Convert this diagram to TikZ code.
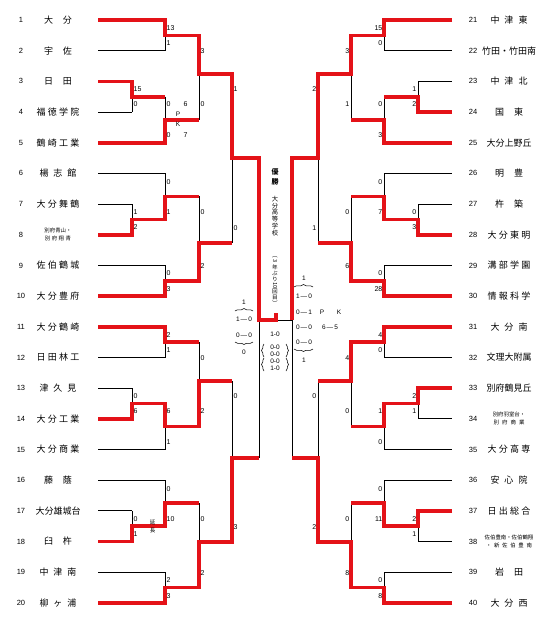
\documentclass[tikz,border=0pt]{standalone}
\usepackage{graphicx}
\usepackage{fontspec}
\setmainfont{Liberation Sans}
\newfontfamily\jpfont{Noto Sans CJK JP}
\usetikzlibrary{decorations.pathreplacing}
\definecolor{winred}{RGB}{228,18,24}
\newcommand\twoch[1]{\makebox[28pt][s]{#1}}
\newcommand\threech[1]{\makebox[37pt][s]{#1}}
\newcommand\fourch[1]{\makebox[43pt][s]{#1}}
\newcommand\smallpair[2]{\vbox{\fontsize{5.4}{8}\selectfont
  \hbox to 52pt{\hss#1\hss}\hbox to 52pt{\hss#2\hss}}}

\begin{document}
\begin{tikzpicture}[
			x=1pt, y=-1pt,
			bline/.style={draw=black, line width=0.8pt},
			rline/.style={draw=winred, line width=3.6pt, line join=miter},
			seed/.style={font=\fontsize{7.5}{9}\selectfont, inner sep=0pt},
			team/.style={font=\jpfont\fontsize{9}{10}\selectfont, inner sep=0pt},
			scL/.style={font=\fontsize{7}{8}\selectfont, inner sep=0pt, anchor=west},
			scR/.style={font=\fontsize{7}{8}\selectfont, inner sep=0pt, anchor=east},
			half/.style={font=\fontsize{6.5}{7}\selectfont, inner sep=0pt, align=center},
			brc/.style={decorate, decoration={brace, amplitude=2.5pt}, line width=0.5pt}
			]
			\fill[white] (0,0) rectangle (553,630);
			\useasboundingbox (0,0) rectangle (553,630);
			
			% left teams
			\foreach \i/\xe/\nm in {1/165/\twoch{大 分}, 2/165/\twoch{宇 佐}, 3/132/\twoch{日 田},
				4/132/\fourch{福 徳 学 院}, 5/165/\fourch{鶴 崎 工 業}, 6/165/\threech{楊 志 館},
				7/132/\fourch{大 分 舞 鶴}, 8/132/\smallpair{別府青山・}{\makebox[26pt][s]{別 府 翔 青}},
				9/165/\fourch{佐 伯 鶴 城}, 10/165/\fourch{大 分 豊 府}, 11/165/\fourch{大 分 鶴 崎},
				12/165/\fourch{日 田 林 工}, 13/132/\threech{津 久 見}, 14/132/\fourch{大 分 工 業},
				15/165/\fourch{大 分 商 業}, 16/165/\twoch{藤 蔭}, 17/132/大分雄城台,
				18/132/\twoch{臼 杵}, 19/165/\threech{中 津 南}, 20/165/\threech{柳 ヶ 浦}}
			{
				\pgfmathsetmacro\ty{20+(\i-1)*30.68}
				\draw[bline] (98,\ty) -- (\xe,\ty);
				\node[seed] (n\i) at (21,\ty) {\i};
				\node[team] (t\i) at (58,\ty) {\nm};
			}
			
			% right teams
			\foreach \i/\xe/\nm in {21/384/\threech{中 津 東}, 22/384/竹田・竹田南, 23/418/\threech{中 津 北},
				24/418/\twoch{国 東}, 25/384/大分上野丘, 26/384/\twoch{明 豊}, 27/418/\twoch{杵 築},
				28/418/\fourch{大 分 東 明}, 29/384/\fourch{溝 部 学 園}, 30/384/\fourch{情 報 科 学},
				31/384/\threech{大 分 南}, 32/384/文理大附属, 33/418/別府鶴見丘,
				34/418/\smallpair{別府羽室台・}{\makebox[31pt][s]{別 府 商 業}},
				35/384/\fourch{大 分 高 専}, 36/384/\threech{安 心 院}, 37/418/\fourch{日 出 総 合},
				38/418/\smallpair{佐伯豊南・佐伯鶴翔}{\makebox[46pt][s]{・ 新 佐 伯 豊 南}},
				39/384/\twoch{岩 田}, 40/384/\threech{大 分 西}}
			{
				\pgfmathsetmacro\ty{20+(\i-21)*30.68}
				\draw[bline] (\xe,\ty) -- (452,\ty);
				\node[seed] (n\i) at (473,\ty) {\i};
				\node[team] (t\i) at (509,\ty) {\nm};
			}
			
			% bracket verticals
			\foreach \x/\ya/\yb in {165/20/50.7, 165/96.7/142.7, 165/173.4/219.4, 165/265.4/296.1,
				165/326.8/357.5, 165/403.5/449.5, 165/480.2/526.2, 165/572.2/602.9,
				132/81.4/112, 132/204.1/234.8, 132/388.2/418.8, 132/510.9/541.6,
				199/35.4/119.7, 199/196.4/280.8, 199/342.1/426.5, 199/503.2/587.6,
				232/74/243, 232/381/542, 259/158/458,
				384/20/50.7, 384/96.7/142.7, 384/173.4/219.4, 384/265.4/296.1,
				384/326.8/357.5, 384/403.5/449.5, 384/480.2/526.2, 384/572.2/602.9,
				418/81.4/112, 418/204.1/234.8, 418/388.2/418.8, 418/510.9/541.6,
				351/35.4/119.7, 351/196.4/280.8, 351/342.1/426.5, 351/503.2/587.6,
				318/74/243, 318/381/542, 292/158/458}
			\draw[bline] (\x,\ya) -- (\x,\yb);
			\draw[bline] (259,320) -- (292,320);
			
			% winners, left
			\draw[rline] (98,20) -- (165,20) -- (165,35.4) -- (199,35.4) -- (199,74) -- (232,74)
				-- (232,158) -- (259,158) -- (259,320) -- (276,320) -- (276,313);
			\draw[rline] (98,81.4) -- (132,81.4) -- (132,96.7) -- (165,96.7);
			\draw[rline] (98,142.7) -- (165,142.7) -- (165,119.7) -- (199,119.7);
			\draw[rline] (98,234.8) -- (132,234.8) -- (132,219.4) -- (165,219.4) -- (165,196.4) -- (199,196.4);
			\draw[rline] (98,296.1) -- (165,296.1) -- (165,280.8) -- (199,280.8) -- (199,243) -- (232,243);
			\draw[rline] (98,326.8) -- (165,326.8) -- (165,342.1) -- (199,342.1);
			\draw[rline] (98,418.8) -- (132,418.8) -- (132,403.5) -- (165,403.5) -- (165,426.5)
				-- (199,426.5) -- (199,381) -- (232,381);
			\draw[rline] (98,541.6) -- (132,541.6) -- (132,526.2) -- (165,526.2) -- (165,503.2) -- (199,503.2);
			\draw[rline] (98,602.9) -- (165,602.9) -- (165,587.6) -- (199,587.6) -- (199,542) -- (232,542)
				-- (232,458) -- (259,458);
			
			% winners, right
			\draw[rline] (452,20) -- (384,20) -- (384,35.4) -- (351,35.4) -- (351,74) -- (318,74)
				-- (318,158) -- (292,158) -- (292,320);
			\draw[rline] (452,112) -- (418,112) -- (418,96.7) -- (384,96.7);
			\draw[rline] (452,142.7) -- (384,142.7) -- (384,119.7) -- (351,119.7);
			\draw[rline] (452,234.8) -- (418,234.8) -- (418,219.4) -- (384,219.4) -- (384,196.4) -- (351,196.4);
			\draw[rline] (452,296.1) -- (384,296.1) -- (384,280.8) -- (351,280.8) -- (351,243) -- (318,243);
			\draw[rline] (452,326.8) -- (384,326.8) -- (384,342.1) -- (351,342.1) -- (351,381) -- (318,381);
			\draw[rline] (452,388.2) -- (418,388.2) -- (418,403.5) -- (384,403.5) -- (384,426.5) -- (351,426.5);
			\draw[rline] (452,510.9) -- (418,510.9) -- (418,526.2) -- (384,526.2) -- (384,503.2) -- (351,503.2);
			\draw[rline] (452,602.9) -- (384,602.9) -- (384,587.6) -- (351,587.6) -- (351,542) -- (318,542)
				-- (318,458) -- (292,458);
			
			% scores
			\foreach \x/\y/\s [count=\k] in {165/28/13, 165/43/1, 132/89/15, 132/104/0, 165/104/0, 165/135/0,
				199/51/3, 199/104/0, 232/89/1, 232/228/0,
				132/212/1, 132/227/2, 165/182/0, 165/212/1, 165/273/0, 165/289/3, 199/212/0, 199/266/2,
				165/335/2, 165/350/1, 132/396/0, 132/411/6, 165/411/6, 165/442/1, 199/358/0, 199/411/2,
				232/396/0, 232/527/3,
				165/489/0, 165/519/10, 132/519/0, 132/534/1, 165/580/2, 165/596/3, 199/519/0, 199/573/2}
			\node[scL] (sl\k) at (\x+1.5,\y) {\s};
			\foreach \x/\y/\s [count=\k] in {384/28/15, 384/43/0, 418/89/1, 418/104/2, 384/104/0, 384/135/3,
				351/51/3, 351/104/1, 318/89/2, 318/228/1,
				418/212/0, 418/227/3, 384/182/0, 384/212/7, 384/273/0, 384/289/28, 351/212/0, 351/266/6,
				384/335/4, 384/350/0, 418/396/2, 418/411/1, 384/411/1, 384/442/0, 351/358/4, 351/411/0,
				318/396/0, 318/527/2,
				384/489/0, 384/519/11, 418/519/2, 418/534/1, 384/580/0, 384/596/8, 351/519/0, 351/573/8}
			\node[scR] (sr\k) at (\x-1.5,\y) {\s};
			
			\node[scL] (pk6) at (183.5,104) {6};
			\node[scL] (pk7) at (183.5,135) {7};
			\node[half] (pkP) at (178,114.5) {P};
			\node[half] (pkK) at (178,124) {K};
			\node[font=\jpfont\fontsize{5.5}{8.5}\selectfont, align=center, inner sep=0pt] (ext) at (152.5,526.5) {延\\長};
			
			% champion
			\node[font=\jpfont\bfseries\fontsize{7}{10}\selectfont, align=center, inner sep=0pt] (yusho) at (275,177) {優\\勝};
			\node[font=\jpfont\fontsize{6.3}{6.8}\selectfont, align=center, inner sep=0pt] (school) at (275,216) {大\\分\\高\\等\\学\\校};
			\node[font=\jpfont\fontsize{5.6}{6}\selectfont, align=center, inner sep=0pt] (times) at (275,281)
				{︵\\\rotatebox[origin=c]{-90}{3}\\年\\ぶ\\り\\\rotatebox[origin=c]{-90}{10}\\回\\目\\︶};
			
			% final
			\node[half] (fin) at (275,334) {1-0};
			\node[half] (finA) at (275,350.5) {0-0\\0-0};
			\node[half] (finB) at (275,364.5) {0-0\\1-0};
			\draw[brc] (264,357) -- (264,344);
			\draw[brc] (286,344) -- (286,357);
			\draw[brc] (264,371) -- (264,358);
			\draw[brc] (286,358) -- (286,371);
			
			% left semifinal
			\node[half] (sfl1) at (244,302) {1};
			\draw[brc] (235,311) -- (253,311);
			\node[half] (sfl2) at (244,319) {1\,—\,0};
			\node[half] (sfl3) at (244,335) {0\,—\,0};
			\draw[brc] (253,342) -- (235,342);
			\node[half] (sfl4) at (244,352) {0};
			
			% right semifinal
			\node[half] (sfr1) at (304,278) {1};
			\draw[brc] (294,287) -- (313,287);
			\node[half] (sfr2) at (304,296) {1\,—\,0};
			\node[half] (sfr3) at (304,312) {0\,—\,1};
			\node[half] (sfrP) at (322,312) {P};
			\node[half] (sfrK) at (339,312) {K};
			\node[half] (sfr4) at (304,327) {0\,—\,0};
			\node[half] (sfrpk) at (330,327) {6\,—\,5};
			\node[half] (sfr5) at (304,342) {0\,—\,0};
			\draw[brc] (313,349) -- (294,349);
			\node[half] (sfr6) at (304,360) {1};
		\end{tikzpicture}
\end{document}
